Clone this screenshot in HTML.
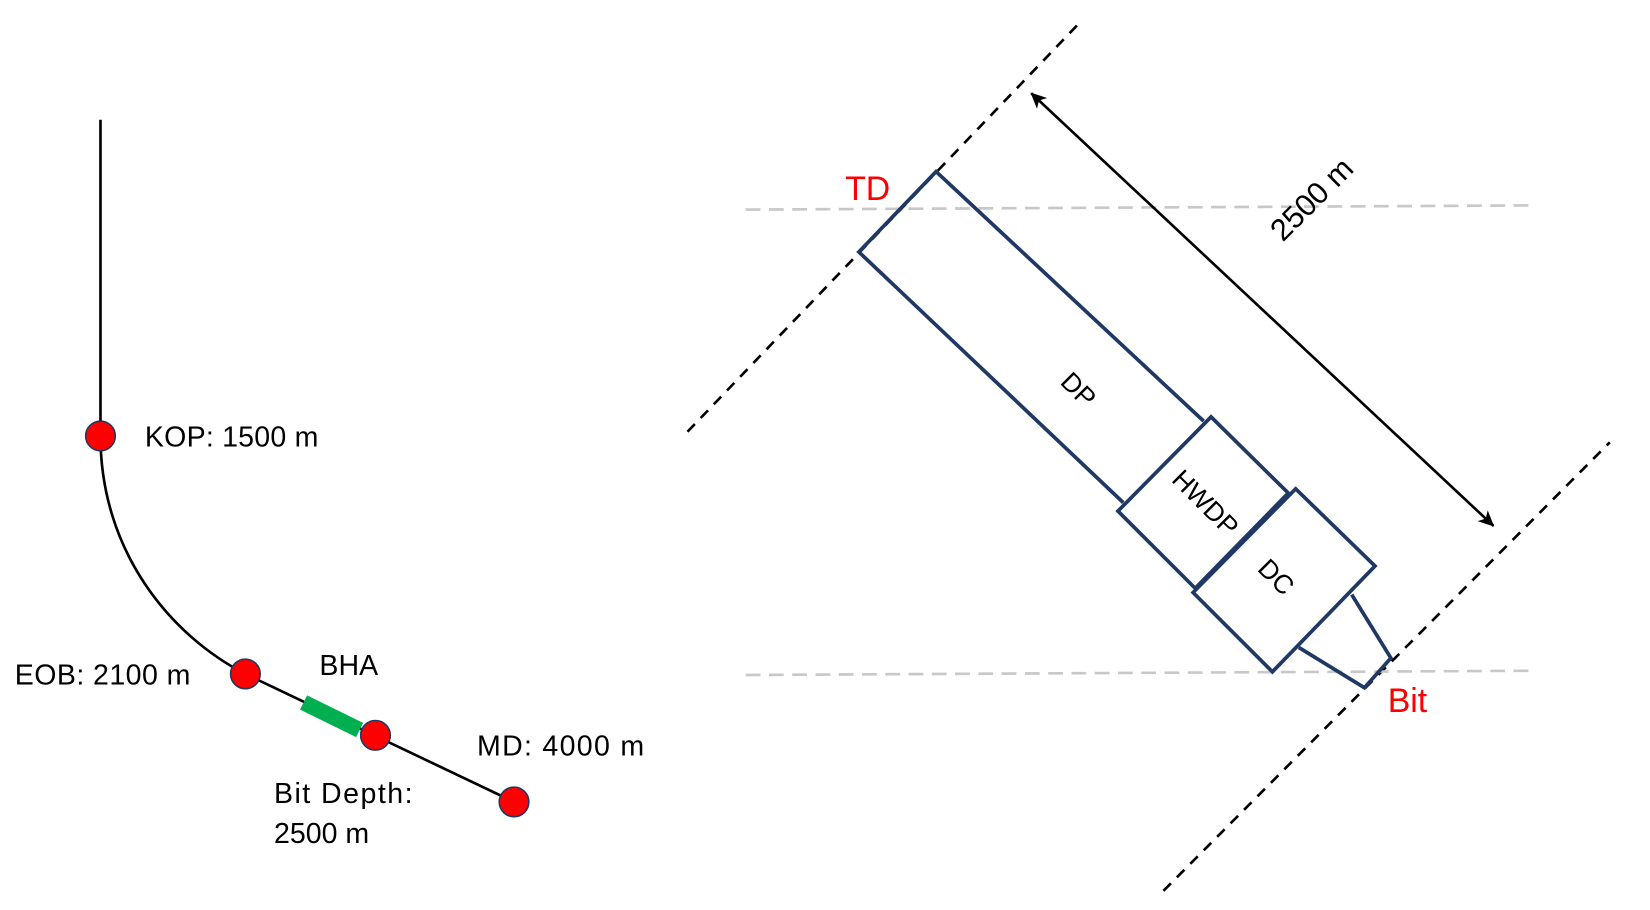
<!DOCTYPE html>
<html><head><meta charset="utf-8"><style>
html,body{margin:0;padding:0;background:#fff;}
svg{display:block}
text{font-family:"Liberation Sans",sans-serif;}
</style></head><body>
<svg width="1650" height="910" viewBox="0 0 1560 860">
<defs>
<marker id="ah" markerWidth="16" markerHeight="16" refX="14" refY="8" orient="auto-start-reverse" markerUnits="userSpaceOnUse">
<path d="M0,1 L15,8 L0,15 L4,8 Z" fill="#000"/>
</marker>
</defs>
<g>
<path d="M95,113 L95,412 C95,520 160,600 232,637 L486,758" fill="none" stroke="#000" stroke-width="2.5"/>
<line x1="287" y1="664" x2="340" y2="690" stroke="#00b050" stroke-width="15"/>
<circle cx="95" cy="412" r="14" fill="#ff0000" stroke="#203864" stroke-width="1.5"/>
<circle cx="232" cy="637" r="14" fill="#ff0000" stroke="#203864" stroke-width="1.5"/>
<circle cx="355" cy="695" r="14" fill="#ff0000" stroke="#203864" stroke-width="1.5"/>
<circle cx="486" cy="758" r="14" fill="#ff0000" stroke="#203864" stroke-width="1.5"/>
<text x="137" y="422" font-size="27" textLength="164">KOP: 1500 m</text>
<text x="14" y="647" font-size="27" textLength="166">EOB: 2100 m</text>
<text x="302" y="638" font-size="27">BHA</text>
<text x="451" y="714" font-size="27" textLength="158">MD: 4000 m</text>
<text x="259" y="759" font-size="27" textLength="131">Bit Depth:</text>
<text x="259" y="797" font-size="27">2500 m</text>
</g>
<g>
<line x1="650" y1="408" x2="1022" y2="20" stroke="#000" stroke-width="2.5" stroke-dasharray="10,8"/>
<line x1="1100" y1="842" x2="1522" y2="418" stroke="#000" stroke-width="2.5" stroke-dasharray="10,8"/>
<line x1="705" y1="198" x2="1450" y2="194" stroke="#c8c8c8" stroke-width="2.5" stroke-dasharray="14,8"/>
<line x1="705" y1="638" x2="1445" y2="634" stroke="#c8c8c8" stroke-width="2.5" stroke-dasharray="14,8"/>
<g fill="none" stroke="#203864" stroke-width="3.5" stroke-linejoin="miter">
<path d="M1062,475 L812,238 L885,162 L1138,398"/>
<polygon points="1057,483 1145,394 1218,466 1130,556" fill="#fff"/>
<polygon points="1128,560 1225,462 1300,535 1203,635" fill="#fff"/>
<path d="M1228,612 L1290,650 L1315,622 L1278,562"/>
</g>
<line x1="975" y1="88" x2="1412" y2="497" stroke="#000" stroke-width="2.5" marker-start="url(#ah)" marker-end="url(#ah)"/>
<text x="1240" y="198" font-size="29" text-anchor="middle" transform="rotate(-45 1240 188)">2500 m</text>
<text x="1020" y="377" font-size="25" text-anchor="middle" transform="rotate(45 1020 368)">DP</text>
<text x="1140" y="484" font-size="25" text-anchor="middle" transform="rotate(45 1140 475)">HWDP</text>
<text x="1207" y="554" font-size="25" text-anchor="middle" transform="rotate(45 1207 545)">DC</text>
<text x="799" y="189" font-size="32" fill="#ff0000">TD</text>
<text x="1312" y="673" font-size="32" fill="#ff0000">Bit</text>
</g>
</svg>
</body></html>
